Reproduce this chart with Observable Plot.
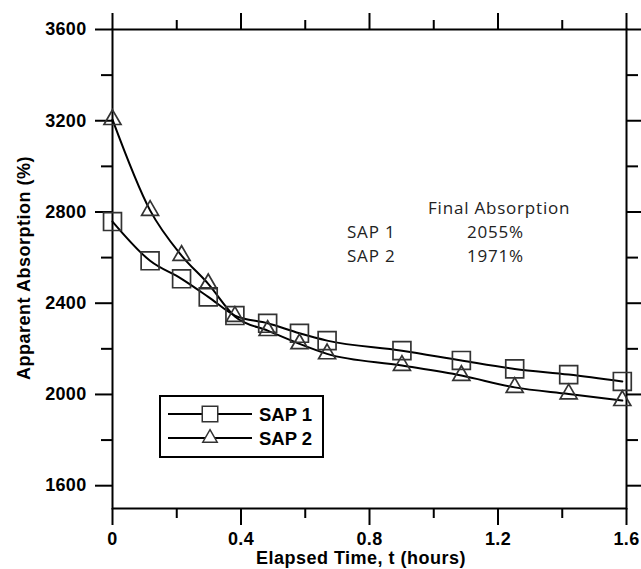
<!DOCTYPE html>
<html><head><meta charset="utf-8">
<script src="https://cdn.jsdelivr.net/npm/d3@7"></script>
<script src="https://cdn.jsdelivr.net/npm/@observablehq/plot@0.6"></script>
<style>
body{margin:0;background:#fff}
#chart svg g[aria-label$="tick label"] text{letter-spacing:0.3px}
</style>
</head><body><div id="chart"></div>
<script>
const time = [0, 0.117, 0.215, 0.298, 0.381, 0.483, 0.582, 0.668, 0.901, 1.086, 1.252, 1.420, 1.587];
const sap1 = [2758, 2586, 2507, 2428, 2346, 2312, 2268, 2236, 2192, 2149, 2112, 2087, 2057];
const sap2 = [3205, 2807, 2609, 2485, 2342, 2280, 2222, 2178, 2127, 2083, 2031, 2002, 1973];
const seriesNames = ["SAP 1", "SAP 2"];
const seriesSymbols = ["square", "triangle"];
const finalTitle = "Final Absorption";
const finalValues = ["2055%", "1971%"];
const xMajor = [0, 0.4, 0.8, 1.2, 1.6];
const xMinor = [0.2, 0.6, 1.0, 1.4];
const yMajor = [1600, 2000, 2400, 2800, 3200, 3600];
const yMinor = [1800, 2200, 2600, 3000, 3400];
const xTitle = "Elapsed Time, t (hours)";
const yTitle = "Apparent Absorption (%)";

const data = [];
time.forEach((t, i) => {
  data.push({t, v: sap1[i], s: seriesNames[0]});
  data.push({t, v: sap2[i], s: seriesNames[1]});
});

const FONT = "'Liberation Sans', Arial, Helvetica, sans-serif";
const W = 641, H = 569, mL = 112, mR = 15, mT = 29, mB = 61;
const fmt = d => String(d);

const svg = Plot.plot({
  width: W, height: H,
  marginLeft: mL, marginRight: mR, marginTop: mT, marginBottom: mB,
  style: {background: "#fff", color: "#000", fontFamily: FONT, overflow: "visible"},
  x: {domain: [0, 1.6]},
  y: {domain: [1500, 3600]},
  marks: [
    Plot.axisX({anchor: "bottom", ticks: xMajor, tickSize: 17, tickPadding: 7, strokeWidth: 2, fontSize: 18, fontWeight: "bold", tickFormat: fmt, label: null}),
    Plot.axisX({anchor: "bottom", ticks: xMinor, tickSize: 10, strokeWidth: 2, text: null, label: null}),
    Plot.axisX({anchor: "top", ticks: xMajor, tickSize: 17, strokeWidth: 2, text: null, label: null}),
    Plot.axisX({anchor: "top", ticks: xMinor, tickSize: 10, strokeWidth: 2, text: null, label: null}),
    Plot.axisY({anchor: "left", ticks: yMajor, tickSize: 17, tickPadding: 9, strokeWidth: 2, fontSize: 18, fontWeight: "bold", tickFormat: fmt, label: null}),
    Plot.axisY({anchor: "left", ticks: yMinor, tickSize: 11, strokeWidth: 2, text: null, label: null}),
    Plot.axisY({anchor: "right", ticks: yMajor, tickSize: 17, strokeWidth: 2, text: null, label: null}),
    Plot.axisY({anchor: "right", ticks: yMinor, tickSize: 11, strokeWidth: 2, text: null, label: null}),
    Plot.frame({strokeWidth: 2}),
    Plot.line(data, {x: "t", y: "v", z: "s", curve: "monotone-x", stroke: "#000", strokeWidth: 2}),
    Plot.dot(data.filter(d => d.s === seriesNames[0]), {x: "t", y: "v", symbol: seriesSymbols[0], r: 10.1, fill: "none", stroke: "#333", strokeWidth: 1.7}),
    Plot.dot(data.filter(d => d.s === seriesNames[1]), {x: "t", y: "v", symbol: seriesSymbols[1], r: 6.3, fill: "none", stroke: "#333", strokeWidth: 1.7})
  ]
});

const g = d3.select(svg).append("g").attr("text-anchor", "start");
// axis titles
g.append("text").attr("x", 361).attr("y", 558).attr("text-anchor", "middle").attr("dominant-baseline", "central")
  .attr("font-family", FONT).attr("font-size", 18).attr("font-weight", "bold").attr("letter-spacing", "0.5px").text(xTitle);
g.append("text").attr("transform", "translate(24,268) rotate(-90)").attr("text-anchor", "middle").attr("dominant-baseline", "central")
  .attr("font-family", FONT).attr("font-size", 18).attr("font-weight", "bold").attr("letter-spacing", "0.5px").text(yTitle);

// legend
const lg = g.append("g");
lg.append("rect").attr("x", 160).attr("y", 396).attr("width", 163).attr("height", 61).attr("fill", "#fff").attr("stroke", "#000").attr("stroke-width", 2);
const legSizes = [240, 90];
seriesNames.forEach((name, i) => {
  const y = 414 + i * 24;
  lg.append("line").attr("x1", 168).attr("x2", 252).attr("y1", y).attr("y2", y).attr("stroke", "#000").attr("stroke-width", 2);
  const sym = i === 0 ? d3.symbolSquare : d3.symbolTriangle;
  lg.append("path").attr("d", d3.symbol(sym, legSizes[i])()).attr("transform", `translate(210,${y})`)
    .attr("fill", "#fff").attr("stroke", "#333").attr("stroke-width", 1.5);
  lg.append("text").attr("x", 259).attr("y", y).attr("text-anchor", "start").attr("dominant-baseline", "central")
    .attr("font-family", FONT).attr("font-size", 18.5).attr("font-weight", "bold").text(name);
});

// annotation
const ANN = "'Open Sans', 'Noto Sans', sans-serif";
const an = g.append("g").attr("font-family", ANN).attr("font-size", 17).attr("fill", "#222").attr("letter-spacing", "0.8px").attr("text-anchor", "start");
an.append("text").attr("x", 428).attr("y", 207).attr("dominant-baseline", "central").text(finalTitle);
seriesNames.forEach((name, i) => {
  const y = 231 + i * 24.5;
  an.append("text").attr("x", 347).attr("y", y).attr("dominant-baseline", "central").text(name);
  an.append("text").attr("x", 467).attr("y", y).attr("dominant-baseline", "central").text(finalValues[i]);
});

document.getElementById("chart").appendChild(svg);
</script>
</body></html>
